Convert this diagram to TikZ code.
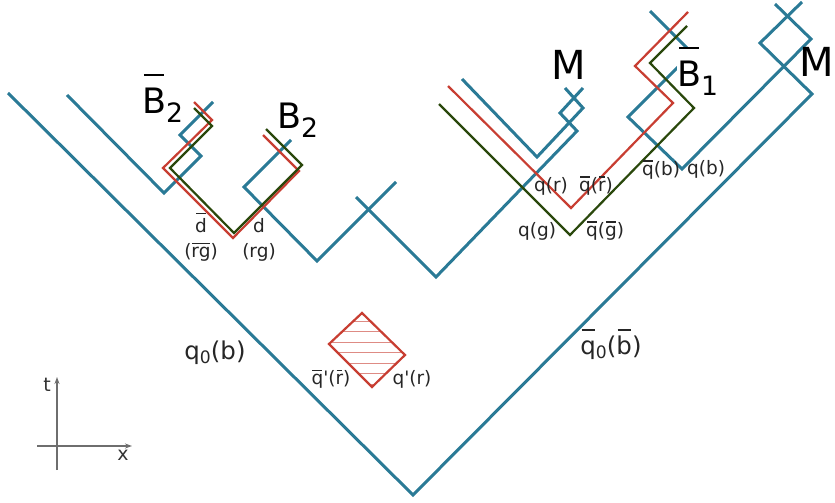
\documentclass[tikz,border=0pt]{standalone}
\usepackage{fontspec}
\usepackage{graphicx}
\setmainfont{DejaVu Sans}
\usetikzlibrary{arrows.meta}
\definecolor{cb}{RGB}{42,122,150}
\definecolor{cr}{RGB}{200,62,50}
\definecolor{cg}{RGB}{42,72,12}
\definecolor{cax}{RGB}{110,110,110}
\newcommand\ob[2][0.72em]{\setbox0=\hbox{#2}\rlap{\kern0.05em\rule[#1]{\dimexpr\wd0-0.1em\relax}{0.065em}}\box0}
\newcommand\sub[1]{\raisebox{-0.27em}{\scalebox{0.76}{#1}}}
\newcommand\smsub[1]{\raisebox{-0.2em}{\scalebox{0.7}{#1}}}
\begin{document}
\begin{tikzpicture}[x=1pt,y=-1pt,
  sb/.style={draw=cb,line width=3pt,line join=miter},
  sr/.style={draw=cr,line width=2.2pt,line join=miter},
  sg/.style={draw=cg,line width=2.2pt,line join=miter},
  lab/.style={inner sep=0pt,anchor=base,font=\fontsize{18.5}{20}\selectfont,text=black!85},
  biglab/.style={inner sep=0pt,anchor=base west,font=\fontsize{35}{36}\selectfont},
  mlab/.style={inner sep=0pt,anchor=base west,font=\fontsize{40}{42}\selectfont},
  midlab/.style={inner sep=0pt,anchor=base,font=\fontsize{24.5}{25}\selectfont,text=black!85},
  ax/.style={draw=cax,line width=1.3pt,-{Stealth[length=7pt,width=5pt]}}]
\useasboundingbox (0,0) rectangle (835,503);

% main string
\draw[sb] (8,93) -- (413,495) -- (812,94) -- (760,43) -- (802,2);
% right meson loop / q(b) string
\draw[sb] (650,11) -- (692,53) -- (628,117) -- (682,169) -- (811,39) -- (775,4);
% left pieces
\draw[sb] (67,95) -- (164,193) -- (201,156) -- (180,135) -- (213,102);
\draw[sb] (291,140) -- (244,187) -- (317,261) -- (396,182);
\draw[sb] (356,197) -- (436,277) -- (577,131) -- (560,113) -- (583,88);
\draw[sb] (462,79) -- (537,157) -- (583,108) -- (565,88);

\node[biglab,fill=white] (B1) at (677,86) {\ob[1.05em]{B}\sub{1}};

% red and green strings
\draw[sr] (194,102) -- (212,120) -- (163,168) -- (233,238) -- (299,171) -- (263,135);
\draw[sg] (194,108) -- (212,126) -- (170,168) -- (234,233) -- (302,165) -- (266,129);
\draw[sr] (448,86) -- (571,208) -- (673,103) -- (635,66) -- (688,12);
\draw[sg] (439,104) -- (570,235) -- (694,108) -- (650,63) -- (687,26);

% hatched diamond
\begin{scope}
\clip (362,313) -- (405,355) -- (372,387) -- (329,344) -- cycle;
\foreach \yy in {321,331.5,...,387} \draw[cr!60,line width=0.9pt] (320,\yy) -- (410,\yy);
\end{scope}
\draw[sr] (362,313) -- (405,355) -- (372,387) -- (329,344) -- cycle;

% big labels
\node[biglab] (B2b) at (142,113) {\ob[1.05em]{B}\sub{2}};
\node[biglab] (B2) at (277,128) {B\sub{2}};
\node[mlab] (M1) at (551,80) {M};
\node[mlab] (M2) at (799,77) {M};

% small labels
\node[lab] (db) at (201,232) {\ob[0.95em]{d}};
\node[lab] (dbc) at (201,257.5) {(\ob{rg})};
\node[lab] (d) at (259,232) {d};
\node[lab] (dc) at (259,257.5) {(rg)};
\node[lab] (qr) at (551,191) {q(r)};
\node[lab] (qbr) at (596,191) {\ob{q}(\ob{r})};
\node[lab] (qg) at (537,236) {q(g)};
\node[lab] (qbg) at (605,236) {\ob{q}(\ob{g})};
\node[lab] (qbb) at (661,175) {\ob{q}(b)};
\node[lab] (qb) at (706,174) {q(b)};
\node[lab] (qpb) at (331,384.5) {\ob{q}\textquotesingle(\ob{r})};
\node[lab] (qp) at (412,384.5) {q\textquotesingle(r)};
\node[midlab] (q0) at (215,359) {q\smsub{0}(b)};
\node[midlab] (q0b) at (611,354) {\ob[0.95em]{q}\smsub{0}(\ob[0.95em]{b})};

% axes
\coordinate (tb) at (57,470);
\coordinate (tt) at (57,377);
\coordinate (xl) at (37,446);
\coordinate (xr) at (132,446);
\draw[ax] (tb) -- (tt);
\draw[ax] (xl) -- (xr);
\node[inner sep=0pt,font=\fontsize{19}{20}\selectfont,text=black!80] (tl) at (47,385) {t};
\node[inner sep=0pt,font=\fontsize{19}{20}\selectfont,text=black!80] (xlab) at (123,455) {x};
\end{tikzpicture}
\end{document}
